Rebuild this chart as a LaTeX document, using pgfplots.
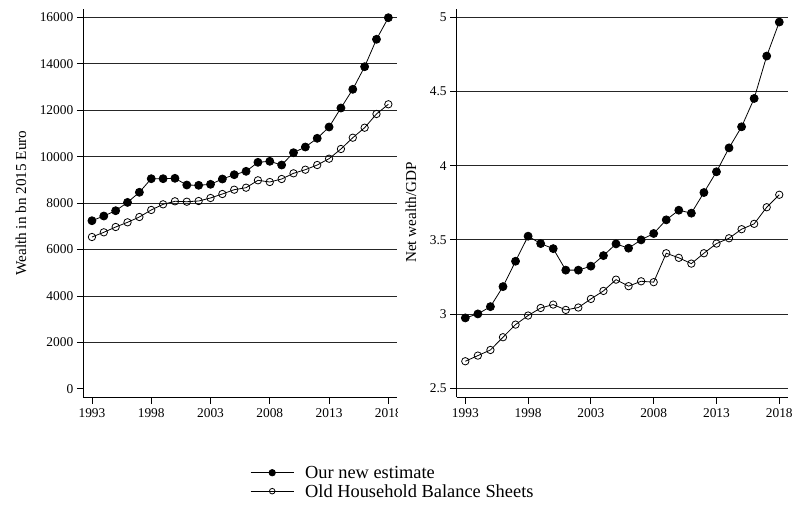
\documentclass[border=0pt]{standalone}
\usepackage{pgfplots}
\pgfplotsset{compat=1.18}
\usepackage{fontspec}
\setmainfont{Liberation Serif}
\begin{document}
\begin{tikzpicture}
\useasboundingbox (0pt,0pt) rectangle (794pt,512pt);
\pgfplotsset{
  every axis/.append style={
    scale only axis,
    axis x line*=bottom, axis y line*=left,
    axis line style={-, line width=0.8pt, black},
    tick align=outside, major tick length=6.5pt,
    tick style={line width=0.8pt, black},
    xtick={1993,1998,2003,2008,2013,2018},
    scaled ticks=false,
    /pgf/number format/assume math mode=true,
    /pgf/number format/set thousands separator={},
    /pgf/number format/1000 sep={},
    tick label style={font=\fontsize{13.4}{15}\selectfont},
    xticklabel style={yshift=-1.5pt},
    label style={font=\fontsize{15.2}{17}\selectfont},
    grid style={line width=0.8pt, black!85},
    clip=false,
  },
  newest/.style={black, line width=0.8pt, mark=*, mark size=4pt, mark options={solid, fill=black}},
  oldhbs/.style={black, line width=0.8pt, mark=o, mark size=3.7pt, mark options={solid, fill=white, line width=0.8pt}},
}
\begin{scope}
\clip (0pt,0pt) rectangle (397.5pt,512pt);
\begin{axis}[
  at={(83.3pt,114.7pt)}, anchor=south west,
  width=313.7pt, height=388.3pt,
  xmin=1992.27, xmax=2018.73,
  ymin=-370, ymax=16366,
  ytick={2000,4000,...,16000},
  ymajorgrids,
  extra y ticks={0},
  extra y tick style={grid=none},
  ylabel={Wealth in bn 2015 Euro},
  ylabel style={at={(axis description cs:-0.199,0.5)}, anchor=center},
]
\addplot[newest] coordinates {
(1993,7241)(1994,7444)(1995,7672)(1996,8030)(1997,8466)(1998,9052)(1999,9052)(2000,9069)
(2001,8780)(2002,8767)(2003,8810)(2004,9039)(2005,9224)(2006,9370)(2007,9758)(2008,9802)
(2009,9642)(2010,10173)(2011,10418)(2012,10793)(2013,11280)(2014,12099)(2015,12905)
(2016,13879)(2017,15060)(2018,15991)};
\addplot[oldhbs] coordinates {
(1993,6539)(1994,6741)(1995,6970)(1996,7172)(1997,7401)(1998,7705)(1999,7948)(2000,8078)
(2001,8060)(2002,8090)(2003,8220)(2004,8392)(2005,8578)(2006,8664)(2007,8983)(2008,8909)
(2009,9039)(2010,9284)(2011,9440)(2012,9642)(2013,9914)(2014,10332)(2015,10819)
(2016,11250)(2017,11841)(2018,12259)};
\end{axis}
\end{scope}
\begin{axis}[
  at={(456.7pt,114.7pt)}, anchor=south west,
  width=331.6pt, height=388.3pt,
  xmin=1992.315, xmax=2018.72,
  ymin=2.439, ymax=5.056,
  ytick={2.5,3,3.5,4,4.5,5},
  ymajorgrids,
  ylabel={Net wealth/GDP},
  ylabel style={at={(axis description cs:-0.138,0.476)}, anchor=center},
  legend style={at={(axis description cs:-0.623,-0.178)}, anchor=north west,
    draw=none, fill=none, inner sep=0pt, column sep=11pt, row sep=6pt,
    nodes={inner sep=0pt, text depth=0pt},
    font=\fontsize{18.4}{20}\selectfont},
  legend cell align=left,
  legend image code/.code={\draw[mark repeat=2,mark phase=2,#1] plot coordinates {(0pt,0pt) (21.5pt,0pt) (43pt,0pt)};},
]
\addplot[newest, forget plot] coordinates {
(1993,2.974)(1994,3.001)(1995,3.050)(1996,3.185)(1997,3.356)(1998,3.525)(1999,3.475)(2000,3.441)
(2001,3.296)(2002,3.296)(2003,3.323)(2004,3.394)(2005,3.473)(2006,3.444)(2007,3.500)(2008,3.543)
(2009,3.635)(2010,3.700)(2011,3.680)(2012,3.819)(2013,3.959)(2014,4.120)(2015,4.262)
(2016,4.453)(2017,4.739)(2018,4.968)};
\addplot[oldhbs, forget plot] coordinates {
(1993,2.682)(1994,2.720)(1995,2.758)(1996,2.844)(1997,2.929)(1998,2.990)(1999,3.041)(2000,3.064)
(2001,3.028)(2002,3.044)(2003,3.102)(2004,3.156)(2005,3.232)(2006,3.188)(2007,3.221)(2008,3.215)
(2009,3.410)(2010,3.379)(2011,3.340)(2012,3.410)(2013,3.475)(2014,3.511)(2015,3.572)
(2016,3.608)(2017,3.720)(2018,3.804)};
\addlegendimage{black, line width=0.8pt, mark=*, mark size=3.2pt, mark options={solid, fill=black}}
\addlegendentry{Our new estimate}
\addlegendimage{black, line width=0.8pt, mark=o, mark size=2.8pt, mark options={solid, fill=white, line width=0.8pt}}
\addlegendentry{Old Household Balance Sheets}
\end{axis}
\end{tikzpicture}
\end{document}
